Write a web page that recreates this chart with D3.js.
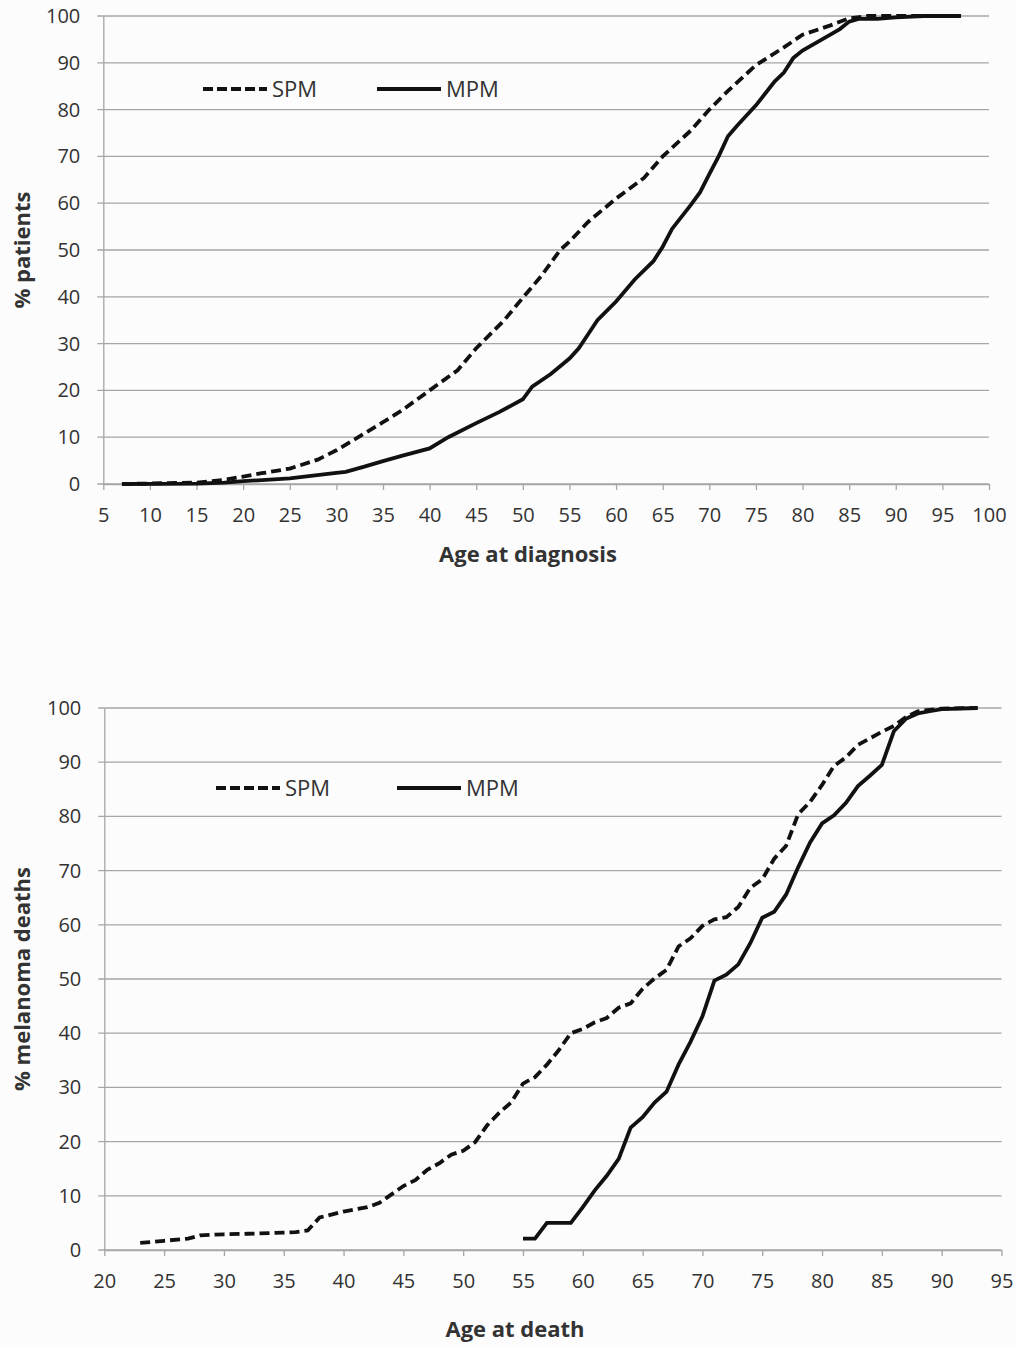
<!DOCTYPE html>
<html>
<head>
<meta charset="utf-8">
<script src="https://cdn.jsdelivr.net/npm/d3@7"></script>
<style>
  body { margin: 0; background: #fcfcfc; }
  svg { display: block; }
  text { font-family: "Open Sans", sans-serif; fill: #333; }
</style>
</head>
<body>
<div id="chart"></div>
<script>
// cumulative % by age

// top panel: age at diagnosis
const diagSpmAge = [7, 15, 18, 20, 22, 25, 28, 30, 33, 35, 37, 40, 43, 45, 48, 50, 52, 54, 55, 57, 60, 63, 65, 68, 70, 72, 75, 78, 80, 83, 85, 87, 90, 97]
const diagSpmPct = [0, 0.3, 0.9, 1.6, 2.3, 3.3, 5.2, 7.2, 10.8, 13.2, 15.7, 20, 24.3, 29, 35, 39.8, 44.5, 50, 51.8, 56, 61, 65.4, 70, 75.5, 80, 84, 89.5, 93.3, 96, 98, 99.5, 100, 100, 100]
const diagMpmAge = [7, 15, 18, 20, 25, 30, 31, 33, 35, 37, 40, 42, 45, 47.5, 50, 51, 53, 55, 56, 57, 58, 60, 62, 64, 65, 66, 68, 69, 70, 71, 72, 73, 75, 77, 78, 79, 80, 82, 84, 85, 86, 88, 90, 93, 97]
const diagMpmPct = [0, 0.1, 0.3, 0.6, 1.2, 2.4, 2.6, 3.7, 4.9, 6, 7.6, 10, 13, 15.4, 18.1, 20.8, 23.5, 26.8, 29, 32, 35, 39, 43.7, 47.6, 50.7, 54.5, 59.6, 62.3, 66.2, 70, 74.3, 76.6, 80.9, 86, 87.9, 91, 92.6, 94.9, 97.2, 98.8, 99.4, 99.4, 99.7, 100, 100]

// bottom panel: age at death
const deathSpmAge = [23, 25, 27, 28, 30, 32, 35, 36, 37, 38, 40, 42, 43, 45, 46, 47, 48, 49, 50, 51, 52, 53, 54, 55, 56, 57, 58, 59, 60, 61, 62, 63, 64, 65, 66, 67, 68, 69, 70, 71, 72, 73, 74, 75, 76, 77, 78, 79, 80, 81, 82, 83, 84, 85, 86, 87, 88, 90, 93]
const deathSpmPct = [1.3, 1.7, 2.1, 2.7, 2.9, 3, 3.2, 3.3, 3.6, 6, 7.1, 7.9, 8.7, 11.8, 12.9, 14.8, 16, 17.6, 18.3, 19.9, 23, 25.3, 27.2, 30.7, 31.9, 34.2, 36.9, 40, 40.8, 42, 42.8, 44.7, 45.5, 48.2, 50.1, 51.7, 56, 57.5, 59.8, 61, 61.4, 63.3, 66.8, 68.4, 72.2, 74.6, 80.4, 82.7, 85.8, 89.3, 90.9, 93.2, 94.4, 95.6, 96.7, 98.3, 99.4, 99.9, 100]
const deathMpmAge = [55, 56, 57, 58, 59, 60, 61, 62, 63, 64, 65, 66, 67, 68, 69, 70, 71, 72, 73, 74, 75, 76, 77, 78, 79, 80, 81, 82, 83, 84, 85, 86, 87, 88, 89, 90, 93]
const deathMpmPct = [2.1, 2.1, 5, 5, 5, 7.9, 11, 13.7, 16.8, 22.6, 24.5, 27.2, 29.2, 34.2, 38.4, 43.1, 49.7, 50.8, 52.7, 56.6, 61.3, 62.4, 65.6, 70.6, 75.2, 78.7, 80.2, 82.5, 85.6, 87.5, 89.5, 95.7, 98, 99, 99.4, 99.8, 100]

const seriesNames = ["SPM", "MPM"]
const yTicks = [0, 10, 20, 30, 40, 50, 60, 70, 80, 90, 100]
const diagTicks = d3.range(5, 101, 5)
const deathTicks = d3.range(20, 96, 5)

const W = 1016, H = 1347

let svg = d3.select("#chart").append("svg")
    .attr("width", W)
    .attr("height", H)

svg.append("rect").attr("width", W).attr("height", H).attr("fill", "#fcfcfc")

function panel(opts) {
    let g = svg.append("g")

    let x = d3.scaleLinear().domain(opts.xDomain).range([opts.left, opts.right])
    let y = d3.scaleLinear().domain([0, 100]).range([opts.bottom, opts.top])

    // gridlines
    g.append("g")
        .selectAll("line")
        .data(yTicks)
        .join("line")
        .attr("x1", opts.left - 6)
        .attr("x2", opts.right)
        .attr("y1", d => y(d))
        .attr("y2", d => y(d))
        .attr("stroke", "#a6a6a6")
        .attr("stroke-width", 1.3)

    let yAxis = d3.axisLeft(y).tickValues(yTicks).tickSize(0).tickPadding(23)
    g.append("g")
        .attr("transform", `translate(${opts.left},0)`)
        .call(yAxis)
        .call(a => a.select(".domain").attr("stroke", "#a6a6a6").attr("stroke-width", 1.3))
        .call(a => a.selectAll("text").attr("font-size", 20).attr("fill", "#333"))

    let xAxis = d3.axisBottom(x).tickValues(opts.xTicks).tickSize(6).tickSizeOuter(0).tickPadding(18)
    g.append("g")
        .attr("transform", `translate(0,${opts.bottom})`)
        .call(xAxis)
        .call(a => a.select(".domain").attr("stroke", "#a6a6a6").attr("stroke-width", 1.3))
        .call(a => a.selectAll(".tick line").attr("stroke", "#a6a6a6").attr("stroke-width", 1.3))
        .call(a => a.selectAll("text").attr("font-size", 20).attr("fill", "#333"))

    let line = d3.line().x(d => x(d[0])).y(d => y(d[1]))

    let spm = d3.zip(opts.spmAge, opts.spmPct)
    let mpm = d3.zip(opts.mpmAge, opts.mpmPct)

    g.append("path")
        .datum(spm)
        .attr("d", line)
        .attr("fill", "none")
        .attr("stroke", "#111")
        .attr("stroke-width", 3.8)
        .attr("stroke-dasharray", "10,5")

    g.append("path")
        .datum(mpm)
        .attr("d", line)
        .attr("fill", "none")
        .attr("stroke", "#111")
        .attr("stroke-width", 3.8)

    // legend
    let leg = g.append("g").attr("transform", `translate(0,${opts.legendY})`)
    leg.append("line")
        .attr("x1", opts.legendX[0]).attr("x2", opts.legendX[0] + 64)
        .attr("stroke", "#111").attr("stroke-width", 3.8).attr("stroke-dasharray", "10,4")
    leg.append("text")
        .attr("x", opts.legendX[0] + 69).attr("dy", "0.35em")
        .attr("font-size", 22).text(seriesNames[0])
    leg.append("line")
        .attr("x1", opts.legendX[1]).attr("x2", opts.legendX[1] + 64)
        .attr("stroke", "#111").attr("stroke-width", 3.8)
    leg.append("text")
        .attr("x", opts.legendX[1] + 69).attr("dy", "0.35em")
        .attr("font-size", 22).text(seriesNames[1])

    // axis titles
    g.append("text")
        .attr("x", opts.xTitleX)
        .attr("y", opts.xTitleY)
        .attr("text-anchor", "middle")
        .attr("font-size", 22)
        .attr("font-weight", "bold")
        .text(opts.xTitle)

    g.append("text")
        .attr("transform", `translate(30,${(opts.top + opts.bottom) / 2}) rotate(-90)`)
        .attr("text-anchor", "middle")
        .attr("font-size", 22)
        .attr("font-weight", "bold")
        .text(opts.yTitle)
}

panel({
    xDomain: [5, 100], xTicks: diagTicks,
    left: 103.3, right: 989, top: 16, bottom: 484,
    spmAge: diagSpmAge, spmPct: diagSpmPct,
    mpmAge: diagMpmAge, mpmPct: diagMpmPct,
    legendX: [203, 377], legendY: 89,
    xTitle: "Age at diagnosis", xTitleX: 528, xTitleY: 562,
    yTitle: "% patients"
})

panel({
    xDomain: [20, 95], xTicks: deathTicks,
    left: 104.3, right: 1001.5, top: 708, bottom: 1250,
    spmAge: deathSpmAge, spmPct: deathSpmPct,
    mpmAge: deathMpmAge, mpmPct: deathMpmPct,
    legendX: [216, 397], legendY: 788,
    xTitle: "Age at death", xTitleX: 515, xTitleY: 1337,
    yTitle: "% melanoma deaths"
})
</script>
</body>
</html>
